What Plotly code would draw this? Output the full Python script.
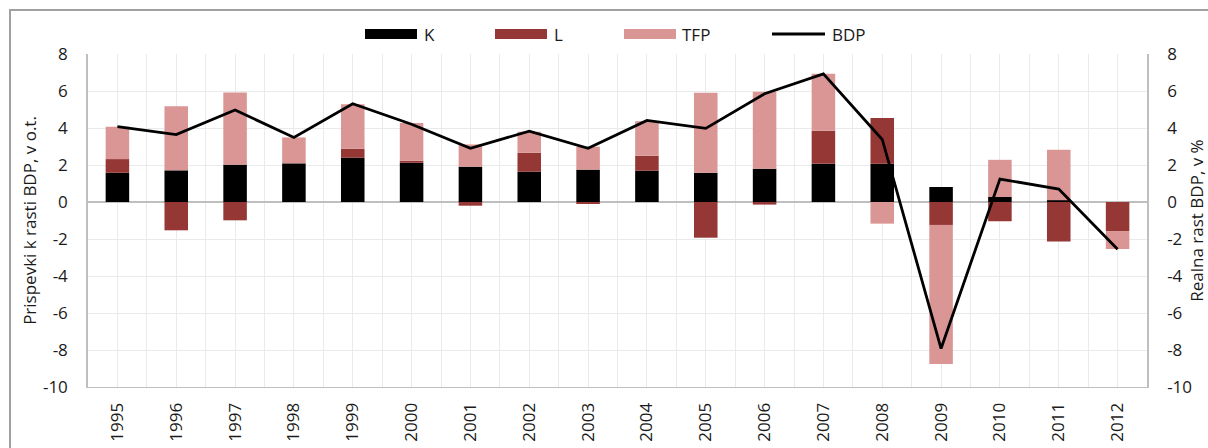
import plotly.graph_objects as go

years = list(range(1995, 2013))
K = [1.58, 1.71, 2.02, 2.09, 2.39, 2.12, 1.91, 1.64, 1.75, 1.69, 1.58, 1.80, 2.07, 2.07, 0.81, 0.27, 0.10, 0.0]
L = [0.74, -1.53, -0.99, 0.0, 0.49, 0.11, -0.20, 1.02, -0.10, 0.81, -1.93, -0.14, 1.78, 2.47, -1.24, -1.04, -2.14, -1.57]
TFP = [1.75, 3.46, 3.90, 1.40, 2.41, 2.04, 1.20, 1.14, 1.24, 1.87, 4.32, 4.16, 3.08, -1.17, -7.52, 2.01, 2.73, -0.97]
BDP = [4.07, 3.64, 4.97, 3.49, 5.31, 4.20, 2.90, 3.83, 2.90, 4.41, 3.98, 5.85, 6.93, 3.38, -7.92, 1.24, 0.70, -2.55]
y_ticks = [-10, -8, -6, -4, -2, 0, 2, 4, 6, 8]

names = ["K", "L", "TFP", "BDP"]
colors = ["#000000", "#953735", "#D99694", "#000000"]

W, H = 1208, 448
ML, MR, MT, MB = 88, 61, 54, 61
PW, PH = W - ML - MR, H - MT - MB
FONT = "Open Sans"
TXT = "#1a1a1a"


def px(x):
    return (x - ML) / PW


def py(y):
    return (H - MB - y) / PH


fig = go.Figure()
for name, vals, col in zip(names[:3], [K, L, TFP], colors[:3]):
    fig.add_trace(go.Bar(x=years, y=vals, name=name, marker=dict(color=col, line=dict(width=0)),
                         showlegend=False))
fig.add_trace(go.Scatter(x=years, y=BDP, name=names[3], mode="lines", yaxis="y2",
                         line=dict(color=colors[3], width=2.8), showlegend=False))

grid = "#EAEAEA"
axis_col = "#BFBFBF"
tick_text = [str(v) for v in y_ticks]

fig.update_layout(
    width=W, height=H,
    margin=dict(l=ML, r=MR, t=MT, b=MB, autoexpand=False),
    paper_bgcolor="white", plot_bgcolor="white",
    barmode="relative", bargap=0.6,
    font=dict(family=FONT, size=17, color=TXT),
    xaxis=dict(range=[1994.5, 2012.5], tickmode="array", tickvals=years,
               ticktext=[str(y) for y in years], tickangle=-90, ticks="",
               showgrid=True, gridcolor=grid, gridwidth=1,
               minor=dict(tick0=1994.5, dtick=1, showgrid=True, gridcolor=grid, gridwidth=1),
               showline=True, linecolor=axis_col, linewidth=1, mirror=False,
               ticklabelstandoff=8, zeroline=False, automargin=False, fixedrange=True),
    yaxis=dict(range=[-10, 8], tickmode="array", tickvals=y_ticks, ticktext=tick_text,
               ticks="", showgrid=True, gridcolor=grid,
               zeroline=True, zerolinecolor=axis_col, zerolinewidth=1.5,
               showline=True, linecolor=axis_col, linewidth=1.5,
               ticklabelstandoff=15, automargin=False,
               title=dict(text="Prispevki k rasti BDP, v o.t.", standoff=2,
                          font=dict(size=17))),
    yaxis2=dict(range=[-10, 8], tickmode="array", tickvals=y_ticks, ticktext=tick_text,
                overlaying="y", side="right", ticks="",
                showgrid=False, zeroline=False, showline=True, linecolor=axis_col, linewidth=1.5,
                ticklabelstandoff=15, automargin=False,
                title=dict(text="Realna rast BDP, v %", standoff=2, font=dict(size=17))),
)

# outer frame
fig.add_shape(type="rect", xref="paper", yref="paper", x0=px(10), x1=px(1225), y0=py(470), y1=py(10),
              line=dict(color="#A0A0A0", width=2), fillcolor="rgba(0,0,0,0)", layer="above")

# custom legend
leg_y = 34
swatches = [(365, 417, 422), (495, 547, 552), (624, 676, 680), (772, 825, 830)]
for (x0, x1, tx), name, col in zip(swatches, names, colors):
    if name == "BDP":
        fig.add_shape(type="line", xref="paper", yref="paper", x0=px(x0), x1=px(x1),
                      y0=py(leg_y), y1=py(leg_y), line=dict(color=col, width=2.8))
    else:
        fig.add_shape(type="rect", xref="paper", yref="paper", x0=px(x0), x1=px(x1),
                      y0=py(leg_y + 5), y1=py(leg_y - 5), fillcolor=col, line=dict(width=0))
    fig.add_annotation(text=name, xref="paper", yref="paper", x=px(tx), y=py(leg_y),
                       xanchor="left", yanchor="middle", showarrow=False,
                       font=dict(family=FONT, size=17, color=TXT))

fig.write_html("out.html", config={"displayModeBar": False},
               post_script="document.body.style.margin='0';document.body.style.overflow='hidden';")
